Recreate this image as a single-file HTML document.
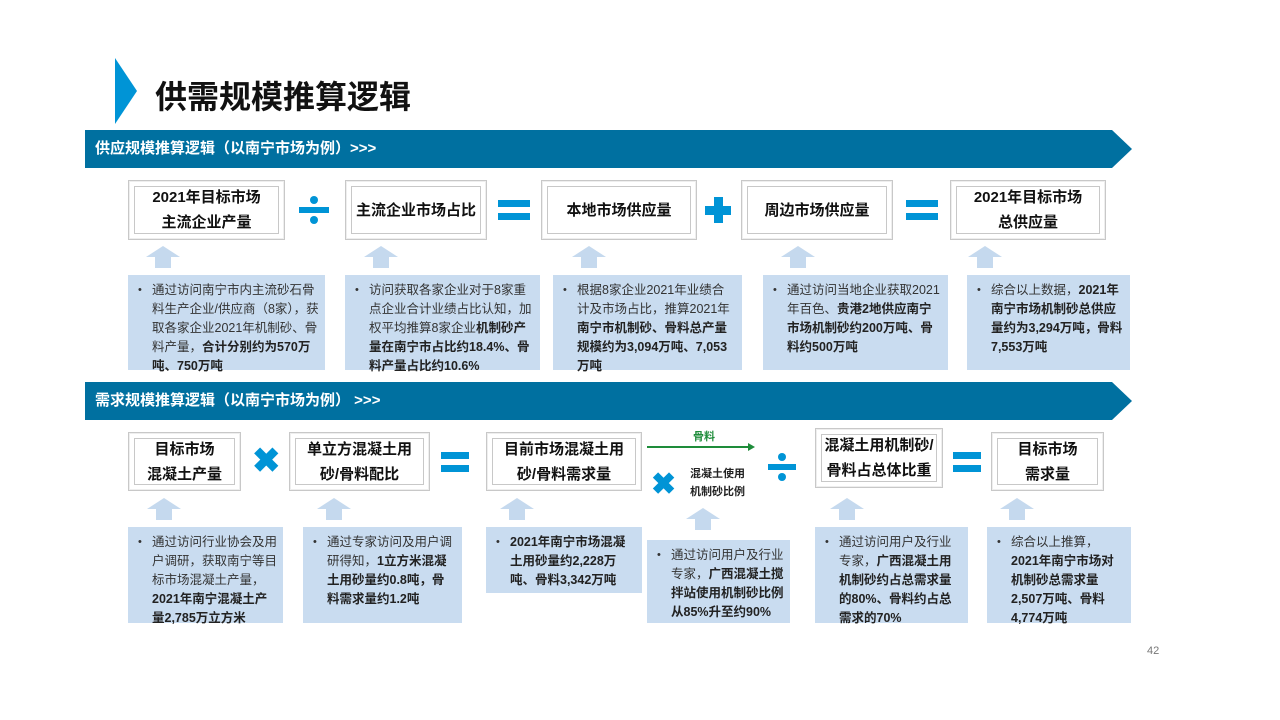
<!DOCTYPE html>
<html><head><meta charset="utf-8"><style>
*{margin:0;padding:0;box-sizing:border-box}
body{width:1280px;height:720px;background:#fff;position:relative;overflow:hidden;font-family:"Liberation Sans","Noto Sans CJK SC",sans-serif;color:#222}
.a{position:absolute}
.title{left:155px;top:72px;font-size:32px;font-weight:bold;color:#111}
.banner{height:38px;background:#0070A0;color:#fff;font-size:15px;font-weight:bold;line-height:38px;padding-left:10px;clip-path:polygon(0 0,calc(100% - 20px) 0,100% 50%,calc(100% - 20px) 100%,0 100%);filter:drop-shadow(2px 3px 2px rgba(0,0,0,.4))}
.box{border:1px solid #c8c8c8;background:#fff;box-shadow:0 0 0 1px #eee inset}
.box .in{position:absolute;left:5px;top:5px;right:5px;bottom:5px;border:1px solid #c8c8c8;display:flex;align-items:center;justify-content:center;text-align:center;font-size:15px;font-weight:bold;line-height:25px;color:#111}
.desc{background:#C9DCF0;font-size:12.5px;line-height:19px;color:#333;padding:6px 6px 0 24px}
.desc:before{content:"•";position:absolute;left:10px;top:6px;font-size:11px}
.desc b{color:#222}
.up{width:34px;height:22px}
.up:before{content:"";position:absolute;left:0;top:0;border-left:17px solid transparent;border-right:17px solid transparent;border-bottom:11px solid #C5D9EE}
.up:after{content:"";position:absolute;left:9px;top:11px;width:16px;height:11px;background:#C5D9EE}
.eq{width:32px;height:20px;border-top:7px solid #0094D6;border-bottom:7px solid #0094D6}
.dv{width:30px;height:28px}
.dv i{position:absolute;background:#0094D6}
.pl{width:26px;height:26px}
.pl:before{content:"";position:absolute;left:0;top:9px;width:26px;height:9px;background:#0094D6}
.pl:after{content:"";position:absolute;left:9px;top:0;width:9px;height:26px;background:#0094D6}
.x{font-size:34px;font-weight:bold;color:#0094D6;line-height:1}
</style></head><body>
<div class="a" style="left:115px;top:58px;width:0;height:0;border-top:33px solid transparent;border-bottom:33px solid transparent;border-left:22px solid #0094D6"></div>
<div class="a title">供需规模推算逻辑</div>

<div class="a banner" style="left:85px;top:130px;width:1047px">供应规模推算逻辑（以南宁市场为例）&gt;&gt;&gt;</div>

<div class="a box" style="left:128px;top:180px;width:157px;height:60px"><div class="in">2021年目标市场<br>主流企业产量</div></div>
<div class="a dv" style="left:299px;top:196px"><i style="left:0;top:11px;width:30px;height:6px"></i><i style="left:11px;top:0;width:8px;height:8px;border-radius:50%"></i><i style="left:11px;top:20px;width:8px;height:8px;border-radius:50%"></i></div>
<div class="a box" style="left:345px;top:180px;width:142px;height:60px"><div class="in">主流企业市场占比</div></div>
<div class="a eq" style="left:498px;top:200px"></div>
<div class="a box" style="left:541px;top:180px;width:156px;height:60px"><div class="in">本地市场供应量</div></div>
<div class="a pl" style="left:705px;top:197px"></div>
<div class="a box" style="left:741px;top:180px;width:152px;height:60px"><div class="in">周边市场供应量</div></div>
<div class="a eq" style="left:906px;top:200px"></div>
<div class="a box" style="left:950px;top:180px;width:156px;height:60px"><div class="in">2021年目标市场<br>总供应量</div></div>

<div class="a up" style="left:146px;top:246px"></div>
<div class="a up" style="left:364px;top:246px"></div>
<div class="a up" style="left:572px;top:246px"></div>
<div class="a up" style="left:781px;top:246px"></div>
<div class="a up" style="left:968px;top:246px"></div>

<div class="a desc" style="left:128px;top:275px;width:197px;height:95px">通过访问南宁市内主流砂石骨料生产企业/供应商（8家），获取各家企业2021年机制砂、骨料产量，<b>合计分别约为570万吨、750万吨</b></div>
<div class="a desc" style="left:345px;top:275px;width:195px;height:95px">访问获取各家企业对于8家重点企业合计业绩占比认知，加权平均推算8家企业<b>机制砂产量在南宁市占比约18.4%、骨料产量占比约10.6%</b></div>
<div class="a desc" style="left:553px;top:275px;width:189px;height:95px">根据8家企业2021年业绩合计及市场占比，推算2021年<b>南宁市机制砂、骨料总产量规模约为3,094万吨、7,053万吨</b></div>
<div class="a desc" style="left:763px;top:275px;width:185px;height:95px">通过访问当地企业获取2021年百色、<b>贵港2地供应南宁市场机制砂约200万吨、骨料约500万吨</b></div>
<div class="a desc" style="left:967px;top:275px;width:163px;height:95px">综合以上数据，<b>2021年南宁市场机制砂总供应量约为3,294万吨，骨料7,553万吨</b></div>

<div class="a banner" style="left:85px;top:382px;width:1047px">需求规模推算逻辑（以南宁市场为例） &gt;&gt;&gt;</div>

<div class="a box" style="left:128px;top:432px;width:113px;height:59px"><div class="in">目标市场<br>混凝土产量</div></div>
<div class="a x" style="left:252px;top:444px">✖</div>
<div class="a box" style="left:289px;top:432px;width:141px;height:59px"><div class="in">单立方混凝土用<br>砂/骨料配比</div></div>
<div class="a eq" style="left:441px;top:452px;width:28px"></div>
<div class="a box" style="left:486px;top:432px;width:156px;height:59px"><div class="in">目前市场混凝土用<br>砂/骨料需求量</div></div>
<div class="a" style="left:693px;top:428px;font-size:11px;font-weight:bold;color:#1E8C3A">骨料</div>
<div class="a" style="left:647px;top:446px;width:102px;height:2px;background:#1E8C3A"></div>
<div class="a" style="left:748px;top:443px;border-left:7px solid #1E8C3A;border-top:4px solid transparent;border-bottom:4px solid transparent"></div>
<div class="a x" style="left:651px;top:470px;font-size:30px">✖</div>
<div class="a" style="left:690px;top:465px;font-size:11px;font-weight:bold;line-height:18px;color:#222">混凝土使用<br>机制砂比例</div>
<div class="a dv" style="left:768px;top:453px"><i style="left:0;top:11px;width:28px;height:6px"></i><i style="left:10px;top:0;width:8px;height:8px;border-radius:50%"></i><i style="left:10px;top:20px;width:8px;height:8px;border-radius:50%"></i></div>
<div class="a box" style="left:815px;top:428px;width:128px;height:60px"><div class="in">混凝土用机制砂/<br>骨料占总体比重</div></div>
<div class="a eq" style="left:953px;top:452px;width:28px"></div>
<div class="a box" style="left:991px;top:432px;width:113px;height:59px"><div class="in">目标市场<br>需求量</div></div>

<div class="a up" style="left:147px;top:498px"></div>
<div class="a up" style="left:317px;top:498px"></div>
<div class="a up" style="left:500px;top:498px"></div>
<div class="a up" style="left:686px;top:508px"></div>
<div class="a up" style="left:830px;top:498px"></div>
<div class="a up" style="left:1000px;top:498px"></div>

<div class="a desc" style="left:128px;top:527px;width:155px;height:96px">通过访问行业协会及用户调研，获取南宁等目标市场混凝土产量，<b>2021年南宁混凝土产量2,785万立方米</b></div>
<div class="a desc" style="left:303px;top:527px;width:159px;height:96px">通过专家访问及用户调研得知，<b>1立方米混凝土用砂量约0.8吨，骨料需求量约1.2吨</b></div>
<div class="a desc" style="left:486px;top:527px;width:156px;height:66px"><b>2021年南宁市场混凝土用砂量约2,228万吨、骨料3,342万吨</b></div>
<div class="a desc" style="left:647px;top:540px;width:143px;height:83px">通过访问用户及行业专家，<b>广西混凝土搅拌站使用机制砂比例从85%升至约90%</b></div>
<div class="a desc" style="left:815px;top:527px;width:153px;height:96px">通过访问用户及行业专家，<b>广西混凝土用机制砂约占总需求量的80%、骨料约占总需求的70%</b></div>
<div class="a desc" style="left:987px;top:527px;width:144px;height:96px">综合以上推算，<b>2021年南宁市场对机制砂总需求量2,507万吨、骨料4,774万吨</b></div>

<div class="a" style="left:1147px;top:645px;font-size:11px;color:#777">42</div>
</body></html>
